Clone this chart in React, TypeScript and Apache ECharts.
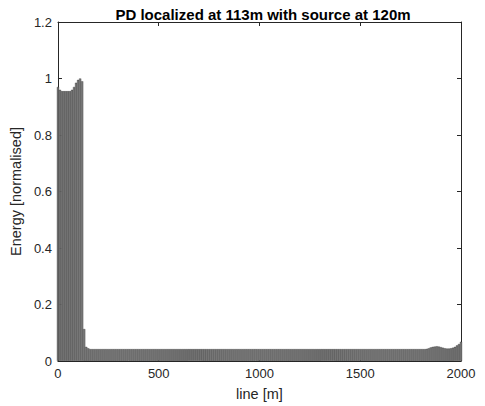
import React, { useEffect, useRef } from "react";
import * as echarts from "echarts";

const titleText = "PD localized at 113m with source at 120m";
const xName = "line [m]";
const yName = "Energy [normalised]";
const xTicks = [0, 500, 1000, 1500, 2000];
const yTicks = [0, 0.2, 0.4, 0.6, 0.8, 1, 1.2];
const positionStep = 10; // metres between bars
const energyHead = [0.97, 0.96, 0.955, 0.955, 0.955, 0.955, 0.955, 0.96, 0.97, 0.985, 0.995, 1.0, 0.99, 0.113, 0.05, 0.045];
const energyBody = [
  0.042, 0.042, 0.042, 0.042, 0.042, 0.042, 0.042, 0.042, 0.042, 0.042,
  0.042, 0.042, 0.042, 0.042, 0.042, 0.042, 0.042, 0.042, 0.042, 0.042,
  0.042, 0.042, 0.042, 0.042, 0.042, 0.042, 0.042, 0.042, 0.042, 0.042,
  0.042, 0.042, 0.042, 0.042, 0.042, 0.042, 0.042, 0.042, 0.042, 0.042,
  0.042, 0.042, 0.042, 0.042, 0.042, 0.042, 0.042, 0.042, 0.042, 0.042,
  0.042, 0.042, 0.042, 0.042, 0.042, 0.042, 0.042, 0.042, 0.042, 0.042,
  0.042, 0.042, 0.042, 0.042, 0.042, 0.042, 0.042, 0.042, 0.042, 0.042,
  0.042, 0.042, 0.042, 0.042, 0.042, 0.042, 0.042, 0.042, 0.042, 0.042,
  0.042, 0.042, 0.042, 0.042, 0.042, 0.042, 0.042, 0.042, 0.042, 0.042,
  0.042, 0.042, 0.042, 0.042, 0.042, 0.042, 0.042, 0.042, 0.042, 0.042,
  0.042, 0.042, 0.042, 0.042, 0.042, 0.042, 0.042, 0.042, 0.042, 0.042,
  0.042, 0.042, 0.042, 0.042, 0.042, 0.042, 0.042, 0.042, 0.042, 0.042,
  0.042, 0.042, 0.042, 0.042, 0.042, 0.042, 0.042, 0.042, 0.042, 0.042,
  0.042, 0.042, 0.042, 0.042, 0.042, 0.042, 0.042, 0.042, 0.042, 0.042,
  0.042, 0.042, 0.042, 0.042, 0.042, 0.042, 0.042, 0.042, 0.042, 0.042,
  0.042, 0.042, 0.042, 0.042, 0.042, 0.042, 0.042, 0.042, 0.042, 0.042,
  0.042, 0.042, 0.042, 0.042, 0.042, 0.042, 0.042,
];
const energyTail = [0.043, 0.045, 0.048, 0.05, 0.051, 0.052, 0.051, 0.049, 0.047, 0.045, 0.044, 0.044, 0.045, 0.047, 0.05, 0.055, 0.06, 0.068];

const energy = [...energyHead, ...energyBody, ...energyTail];

const axisColor = "#262626";
const font = "'Liberation Sans', Arial, sans-serif";

export default function App() {
  const ref = useRef<HTMLDivElement>(null);
  useEffect(() => {
    if (!ref.current) return;
    const chart = echarts.init(ref.current, undefined, { renderer: "svg" });
    const data = energy.map((v, i) => [i * positionStep, v]);
    const axisCommon = {
      axisLine: { show: true, onZero: false, lineStyle: { color: axisColor, width: 1 } },
      axisTick: { show: true, inside: true, length: 4, lineStyle: { color: axisColor } },
      splitLine: { show: false },
    };
    const fmt = (v: number) => String(v);
    chart.setOption({
      animation: false,
      backgroundColor: "#ffffff",
      title: {
        text: titleText,
        left: 258,
        textAlign: "center",
        top: 2,
        textStyle: { fontFamily: font, fontSize: 15, fontWeight: "bold", color: "#000" },
      },
      grid: { left: 57, right: 24, top: 22, bottom: 45 },
      xAxis: [
        {
          type: "value",
          min: xTicks[0],
          max: xTicks[xTicks.length - 1],
          interval: 500,
          name: xName,
          nameLocation: "middle",
          nameGap: 25,
          nameTextStyle: { fontFamily: font, fontSize: 14.5, color: axisColor },
          axisLabel: { fontFamily: font, fontSize: 13, color: axisColor, margin: 6, formatter: fmt },
          ...axisCommon,
        },
        {
          type: "value",
          position: "top",
          min: xTicks[0],
          max: xTicks[xTicks.length - 1],
          interval: 500,
          axisLabel: { show: false },
          ...axisCommon,
        },
      ],
      yAxis: [
        {
          type: "value",
          min: yTicks[0],
          max: yTicks[yTicks.length - 1],
          interval: 0.2,
          name: yName,
          nameLocation: "middle",
          nameGap: 27,
          nameTextStyle: { fontFamily: font, fontSize: 14.5, color: axisColor },
          axisLabel: { fontFamily: font, fontSize: 13, color: axisColor, margin: 6, formatter: fmt },
          ...axisCommon,
        },
        {
          type: "value",
          position: "right",
          min: yTicks[0],
          max: yTicks[yTicks.length - 1],
          interval: 0.2,
          axisLabel: { show: false },
          ...axisCommon,
        },
      ],
      series: [
        {
          type: "bar",
          xAxisIndex: 0,
          yAxisIndex: 0,
          data,
          barWidth: 2.2,
          itemStyle: { color: "#7a7a7a", borderColor: "#262626", borderWidth: 0.3 },
        },
      ],
    });
    return () => chart.dispose();
  }, []);
  return (
    <div
      ref={ref}
      style={{ position: "fixed", left: 0, top: 0, width: 485, height: 406 }}
    />
  );
}
